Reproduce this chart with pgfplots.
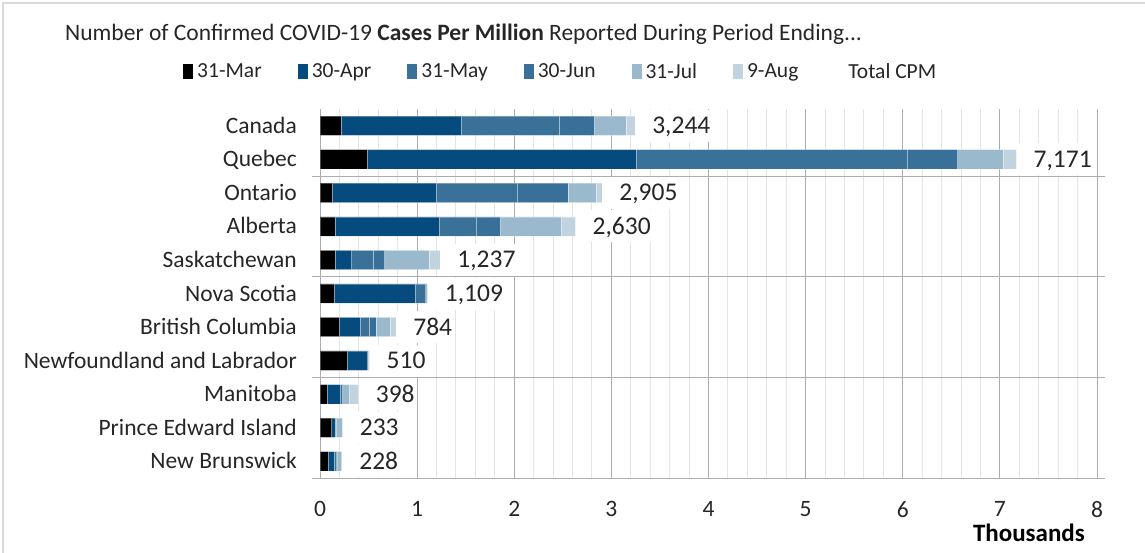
\documentclass[border=0pt]{standalone}
\usepackage{pgfplots}
\pgfplotsset{compat=1.18}
\usepackage{pgfplotstable}
\usepackage{fontspec}
\setmainfont{Carlito}
\definecolor{cMar}{HTML}{000000}
\definecolor{cApr}{HTML}{054B7D}
\definecolor{cMay}{HTML}{3A7198}
\definecolor{cJun}{HTML}{38709A}
\definecolor{cJul}{HTML}{9BB9CD}
\definecolor{cAug}{HTML}{C1D3DF}
\definecolor{txt}{HTML}{262626}
\definecolor{gmaj}{HTML}{ADADAD}
\definecolor{gmin}{HTML}{E4E4E4}
\definecolor{framec}{HTML}{D9D9D9}

\pgfplotstableread{
idx mar apr may jun jul aug z tot lbl
0 0.216 1.236 1.012 0.361 0.323 0.096 0 3.244 3,244
1 0.487 2.767 2.792 0.520 0.464 0.141 0 7.171 7,171
2 0.124 1.071 0.841 0.515 0.291 0.063 0 2.905 2,905
3 0.154 1.072 0.381 0.250 0.625 0.148 0 2.630 2,630
4 0.154 0.172 0.223 0.117 0.456 0.115 0 1.237 1,237
5 0.148 0.831 0.103 0.015 0.005 0.007 0 1.109 1,109
6 0.199 0.213 0.096 0.066 0.147 0.063 0 0.784 784
7 0.281 0.210 0.003 0.004 0.006 0.006 0 0.510 510
8 0.075 0.131 0.024 0.014 0.058 0.096 0 0.398 398
9 0.120 0.035 0.006 0.004 0.065 0.003 0 0.233 233
10 0.086 0.058 0.021 0.013 0.045 0.005 0 0.228 228
}\data

\begin{document}
\begin{tikzpicture}
\useasboundingbox (0,0) rectangle (1145pt,-552pt);
\draw[framec, line width=1.5pt] (3pt,-3pt) rectangle (1170pt,-580pt);
\begin{axis}[
  at={(320pt,-478pt)}, anchor=south west,
  width=777pt, height=369pt, scale only axis,
  xbar stacked, bar width=19.3pt,
  xmin=0, xmax=8, ymin=-0.5, ymax=10.5, y dir=reverse,
  clip=false,
  axis line style={draw=none},
  xtick={0,...,8}, minor x tick num=4,
  xmajorgrids, xminorgrids,
  major grid style={gmaj, line width=1pt},
  minor grid style={gmin, line width=1pt},
  xtick style={draw=none}, minor x tick style={draw=none},
  xticklabel style={font=\fontsize{23.5}{28}\selectfont, text=txt, anchor=north, inner sep=0pt, yshift=-23.5pt},
  /pgf/number format/assume math mode=true,
  ytick={0,...,10},
  yticklabels={Canada, Quebec, Ontario, Alberta, Saskatchewan, Nova Scotia, British Columbia, Newfoundland and Labrador, Manitoba, Prince Edward Island, New Brunswick},
  ytick style={draw=none},
  major tick length=8pt,
  yticklabel style={font=\fontsize{23.5}{28}\selectfont, text=txt, anchor=east, inner sep=0pt, xshift=-23pt, text height=15pt, text depth=0pt},
  extra y ticks={1.5,4.5,7.5,10.5},
  extra y tick labels={},
  extra y tick style={grid=major, tick align=outside, ytick style={draw=gmaj, line width=1pt}},
  legend columns=-1,
  legend style={at={(axis description cs:-0.1763,1.1016)}, anchor=west, draw=none, fill=none, inner sep=0pt,
    font=\fontsize{21.5}{25}\selectfont, text=txt, nodes={inner sep=0pt, anchor=west},
    /tikz/every odd column/.append style={column sep=4pt},
    /tikz/every even column/.append style={column sep=36pt}},
  legend image code/.code={\path[#1, draw=none] (0pt,-7.5pt) rectangle (10pt,7.5pt);},
]
\addplot[fill=cMar, draw=white, draw opacity=0.3, line width=0.5pt] table[x=mar, y=idx] {\data};
\addplot[fill=cApr, draw=white, draw opacity=0.3, line width=0.5pt] table[x=apr, y=idx] {\data};
\addplot[fill=cMay, draw=white, draw opacity=0.3, line width=0.5pt] table[x=may, y=idx] {\data};
\addplot[fill=cJun, draw=white, draw opacity=0.3, line width=0.5pt] table[x=jun, y=idx] {\data};
\addplot[fill=cJul, draw=white, draw opacity=0.3, line width=0.5pt] table[x=jul, y=idx] {\data};
\addplot[fill=cAug, draw=white, draw opacity=0.3, line width=0.5pt] table[x=aug, y=idx] {\data};
\addplot[draw=none, fill=none] table[x=z, y=idx] {\data};
\legend{31-Mar, 30-Apr, 31-May, 30-Jun, 31-Jul, 9-Aug, Total CPM}
\node[anchor=base west, inner sep=0pt, font=\fontsize{23.5}{28}\selectfont, text=txt] at (axis description cs:-0.3282,1.187)
  {Number of Confirmed COVID-19 \textbf{Cases Per Million} Reported During Period Ending...};
\node[anchor=base east, inner sep=0pt, font=\fontsize{25}{30}\selectfont\bfseries, text=black] at (axis description cs:0.9846,-0.1726) {Thousands};
\end{axis}
\begin{axis}[
  at={(320pt,-478pt)}, anchor=south west,
  width=777pt, height=369pt, scale only axis,
  xmin=0, xmax=8, ymin=-0.5, ymax=10.5, y dir=reverse,
  clip=false, hide axis,
]
\addplot[only marks, mark=none, nodes near coords={\hspace{17pt}\pgfplotspointmeta\hspace{15pt}}, point meta=explicit symbolic,
  every node near coord/.append style={anchor=west, fill=white, inner xsep=0pt, inner ysep=8pt, text height=16pt, text depth=0pt,
  font=\fontsize{25.5}{30}\selectfont, text=txt}] table[x=tot, y=idx, meta=lbl] {\data};
\end{axis}
\end{tikzpicture}
\end{document}
